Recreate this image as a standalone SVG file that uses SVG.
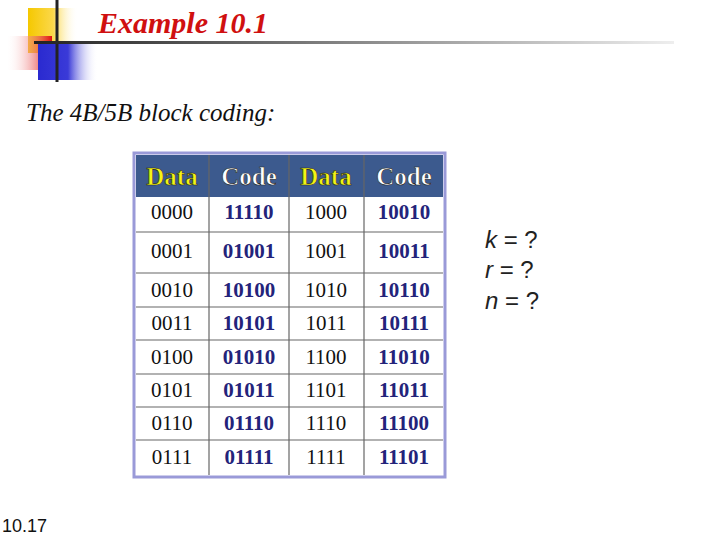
<svg xmlns="http://www.w3.org/2000/svg" width="720" height="540" viewBox="0 0 720 540">
<defs>
<linearGradient id="gy" x1="0" x2="1"><stop offset="0" stop-color="#f5c800"/><stop offset="0.5" stop-color="#fbd84a"/><stop offset="1" stop-color="#fff" stop-opacity="0"/></linearGradient>
<linearGradient id="gr" x1="1" x2="0"><stop offset="0" stop-color="#e01010"/><stop offset="1" stop-color="#fff" stop-opacity="0"/></linearGradient>
<linearGradient id="gb" x1="0" x2="1"><stop offset="0" stop-color="#2a2ad0"/><stop offset="0.5" stop-color="#3a3ad8"/><stop offset="1" stop-color="#fff" stop-opacity="0"/></linearGradient>
<linearGradient id="gl" x1="0" x2="1"><stop offset="0" stop-color="#222"/><stop offset="1" stop-color="#eee"/></linearGradient>
<style>
.d{font-family:"Liberation Serif",serif;font-size:21px;fill:#111;text-anchor:middle}
.c{font-family:"Liberation Serif",serif;font-size:21px;font-weight:bold;fill:#23237a;text-anchor:middle}
.hd{font-family:"Liberation Serif",serif;font-size:25px;font-weight:bold;fill:#f4f414;text-anchor:middle;stroke:#222;stroke-width:0.6}
.hc{font-family:"Liberation Serif",serif;font-size:25px;font-weight:bold;fill:#fff;text-anchor:middle;stroke:#222;stroke-width:0.6}
.g{stroke:#666;stroke-width:1.2}
</style>
</defs>
<g id="logo">
<rect x="28" y="8" width="50" height="45" fill="url(#gy)"/>
<rect x="6" y="36" width="46" height="34" fill="url(#gr)"/>
<rect x="38" y="44" width="60" height="36" fill="url(#gb)"/>
<line x1="57" y1="0" x2="57" y2="82" stroke="#222" stroke-width="3"/>
<rect x="34" y="41" width="640" height="3" fill="url(#gl)"/>
</g>
<text x="98" y="33" font-family="Liberation Serif,serif" font-size="30" font-style="italic" font-weight="bold" fill="#d01010">Example 10.1</text>
<text x="26" y="121" font-family="Liberation Serif,serif" font-size="25" font-style="italic" fill="#111">The 4B/5B block coding:</text>
<g id="table">
<rect x="134" y="153" width="311" height="324" fill="#fff" stroke="#9a9ad8" stroke-width="3"/>
<rect x="136" y="155" width="307" height="42" fill="#3c5a8e"/>
<g class="g">
<line x1="209" y1="155" x2="209" y2="475"/><line x1="289" y1="155" x2="289" y2="475"/><line x1="364" y1="155" x2="364" y2="475"/>
<line x1="136" y1="232" x2="443" y2="232"/><line x1="136" y1="273" x2="443" y2="273"/><line x1="136" y1="307" x2="443" y2="307"/><line x1="136" y1="340" x2="443" y2="340"/><line x1="136" y1="374" x2="443" y2="374"/><line x1="136" y1="407" x2="443" y2="407"/><line x1="136" y1="440" x2="443" y2="440"/>
</g>
<text class="hd" x="172" y="185">Data</text><text class="hc" x="249" y="185">Code</text><text class="hd" x="326" y="185">Data</text><text class="hc" x="404" y="185">Code</text>
<text class="d" x="172" y="219">0000</text><text class="c" x="249" y="219">11110</text><text class="d" x="326" y="219">1000</text><text class="c" x="404" y="219">10010</text>
<text class="d" x="172" y="258">0001</text><text class="c" x="249" y="258">01001</text><text class="d" x="326" y="258">1001</text><text class="c" x="404" y="258">10011</text>
<text class="d" x="172" y="297">0010</text><text class="c" x="249" y="297">10100</text><text class="d" x="326" y="297">1010</text><text class="c" x="404" y="297">10110</text>
<text class="d" x="172" y="330">0011</text><text class="c" x="249" y="330">10101</text><text class="d" x="326" y="330">1011</text><text class="c" x="404" y="330">10111</text>
<text class="d" x="172" y="364">0100</text><text class="c" x="249" y="364">01010</text><text class="d" x="326" y="364">1100</text><text class="c" x="404" y="364">11010</text>
<text class="d" x="172" y="397">0101</text><text class="c" x="249" y="397">01011</text><text class="d" x="326" y="397">1101</text><text class="c" x="404" y="397">11011</text>
<text class="d" x="172" y="430">0110</text><text class="c" x="249" y="430">01110</text><text class="d" x="326" y="430">1110</text><text class="c" x="404" y="430">11100</text>
<text class="d" x="172" y="464">0111</text><text class="c" x="249" y="464">01111</text><text class="d" x="326" y="464">1111</text><text class="c" x="404" y="464">11101</text>
</g>
<g font-family="Liberation Sans,sans-serif" font-size="24" fill="#222">
<text x="485" y="248"><tspan font-style="italic">k</tspan> = ?</text>
<text x="485" y="278"><tspan font-style="italic">r</tspan> = ?</text>
<text x="485" y="309"><tspan font-style="italic">n</tspan> = ?</text>
</g>
<text x="2" y="532" font-family="Liberation Sans,sans-serif" font-size="18" fill="#111">10.17</text>
</svg>
